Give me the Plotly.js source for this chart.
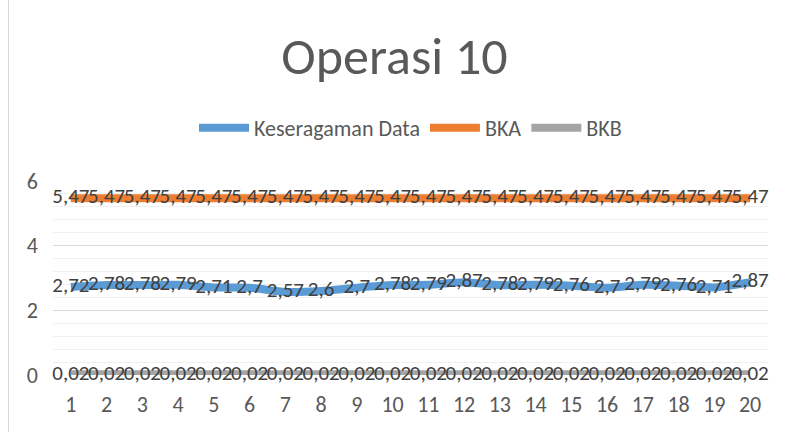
<!DOCTYPE html>
<html>
<head>
<meta charset="utf-8">
<script src="https://cdn.plot.ly/plotly-3.0.1.min.js"></script>
<style>
html,body{margin:0;padding:0;background:#fff;}
#wrap{position:relative;width:789px;height:432px;}
#chart{width:789px;height:432px;}
#edge{position:absolute;left:8px;top:0;width:1px;height:432px;background:#d9d9d9;}
</style>
</head>
<body>
<div id="wrap"><div id="chart"></div><div id="edge"></div></div>
<script>
const categories = [1,2,3,4,5,6,7,8,9,10,11,12,13,14,15,16,17,18,19,20];
const keseragaman = [2.72,2.78,2.78,2.79,2.71,2.7,2.57,2.6,2.7,2.78,2.79,2.87,2.78,2.79,2.76,2.7,2.79,2.76,2.71,2.87];
const bka = [5.47,5.47,5.47,5.47,5.47,5.47,5.47,5.47,5.47,5.47,5.47,5.47,5.47,5.47,5.47,5.47,5.47,5.47,5.47,5.47];
const bkb = [0.02,0.02,0.02,0.02,0.02,0.02,0.02,0.02,0.02,0.02,0.02,0.02,0.02,0.02,0.02,0.02,0.02,0.02,0.02,0.02];
const yTicks = [0,2,4,6];

const FONT = "Carlito, 'Liberation Sans Narrow', 'Open Sans', sans-serif";
const fmt = v => String(v).replace('.', ',');

function series(name, vals, color, smooth) {
  return {
    type: 'scatter', mode: 'lines+text', name: name,
    x: categories, y: vals,
    line: {color: color, width: 8, shape: smooth ? 'spline' : 'linear', smoothing: 0.6},
    text: vals.map(fmt), textposition: 'middle center',
    textfont: {family: FONT, size: 21, color: '#404040'},
    cliponaxis: false
  };
}

const data = [
  series('Keseragaman Data', keseragaman, '#5b9bd5', true),
  series('BKA', bka, '#ed7d31', false),
  series('BKB', bkb, '#a5a5a5', false)
];

const layout = {
  width: 789, height: 432,
  margin: {l: 53, r: 21, t: 181, b: 57},
  paper_bgcolor: '#fff', plot_bgcolor: '#fff',
  title: {text: 'Operasi 10', font: {family: FONT, size: 52, color: '#595959'},
          x: 0.5, xanchor: 'center', y: 1 - 56/432, yanchor: 'middle'},
  showlegend: true,
  legend: {orientation: 'h', x: 0.5, xanchor: 'center', y: 1 - 128/432, yref: 'container', yanchor: 'middle',
           font: {family: FONT, size: 22, color: '#595959'}, itemwidth: 50, traceorder: 'normal'},
  xaxis: {range: [0.5, 20.5], tickvals: categories, ticktext: categories.map(String),
          showgrid: false, zeroline: false, showline: false, ticks: '',
          tickfont: {family: FONT, size: 22, color: '#595959'}, ticklabelstandoff: 14, fixedrange: true},
  yaxis: {range: [0, 6], tickvals: yTicks, ticktext: yTicks.map(String),
          showgrid: true, gridcolor: '#d9d9d9', gridwidth: 1, zeroline: false, showline: false,
          minor: {dtick: 0.4, showgrid: true, gridcolor: '#f0f0f0', gridwidth: 1},
          tickfont: {family: FONT, size: 22, color: '#595959'}, ticklabelstandoff: 14, fixedrange: true}
};

Plotly.newPlot('chart', data, layout, {displayModeBar: false, staticPlot: true});
</script>
</body>
</html>
